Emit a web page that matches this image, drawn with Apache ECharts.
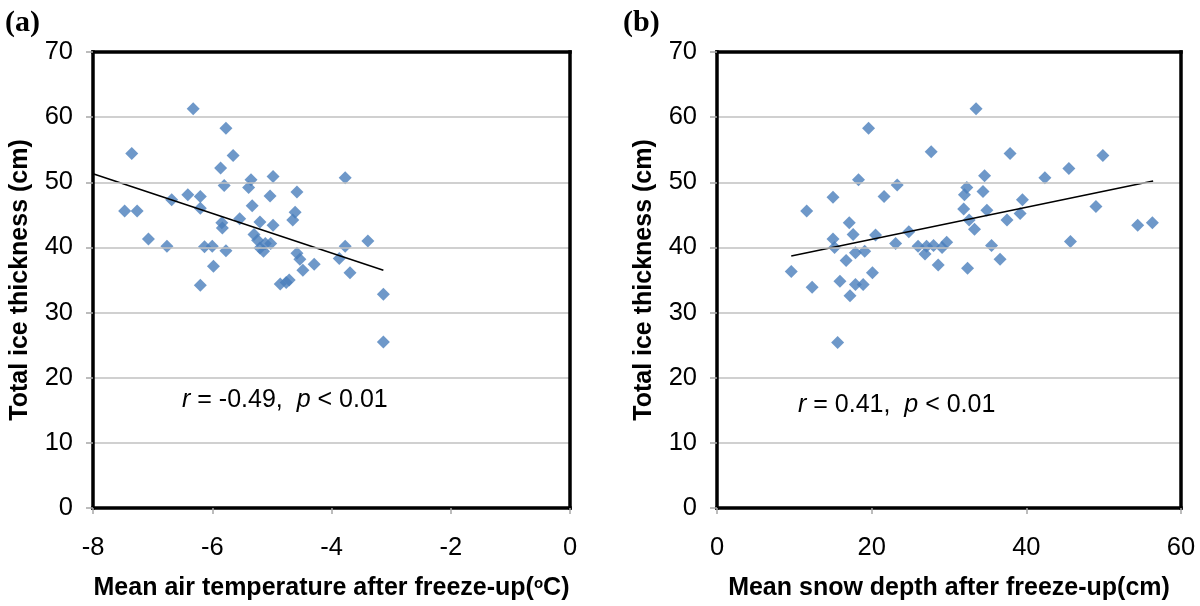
<!DOCTYPE html>
<html>
<head>
<meta charset="utf-8">
<script src="https://cdn.jsdelivr.net/npm/echarts@6/dist/echarts.min.js"></script>
<style>
html,body{margin:0;padding:0;background:#fff;}
#c{width:1200px;height:606px;}
</style>
</head>
<body>
<div id="c"></div>
<script>
// Panel (a): mean air temperature (°C) vs total ice thickness (cm)
var tempA = [-6.32,-5.77,-7.35,-5.65,-5.86,-4.98,-3.77,-5.35,-5.80,-5.39,-6.41,-6.20,-4.58,-5.03,-6.68,-5.33,-6.20,-7.47,-7.26,-4.61,-4.65,-5.54,-5.20,-5.84,-4.98,-5.83,-5.30,-7.07,-3.39,-5.24,-6.76,-6.13,-6.00,-3.77,-5.02,-5.11,-5.77,-5.14,-5.20,-6.20,-5.98,-4.58,-4.53,-4.48,-4.29,-3.87,-3.69,-4.86,-4.76,-4.71,-3.13,-3.13];
var iceA  = [61.3,58.3,54.4,54.1,52.2,50.9,50.7,50.4,49.5,49.2,48.1,47.8,48.5,47.9,47.3,46.4,46.0,45.6,45.6,45.4,44.2,44.4,43.9,43.8,43.4,43.0,42.0,41.3,41.0,41.1,40.2,40.1,40.2,40.2,40.6,40.6,39.5,39.4,39.9,34.2,37.1,39.1,38.2,36.5,37.4,38.3,36.1,34.4,34.6,35.0,32.8,25.5];
var trendA = [[-8, 51.3], [-3.13, 36.5]];

// Panel (b): mean snow depth (cm) vs total ice thickness (cm)
var snowB = [33.5,19.6,27.7,37.9,49.9,45.5,34.6,42.4,18.3,23.3,32.3,15.0,21.6,32.0,34.4,39.5,49.0,11.6,31.9,34.9,39.2,37.5,54.4,56.3,32.6,33.3,17.1,17.6,20.5,24.8,15.0,15.2,23.1,26.0,27.1,28.0,29.1,29.7,26.9,17.9,19.1,35.5,45.7,16.7,36.6,9.6,28.6,32.4,20.1,12.3,15.9,17.9,18.9,17.2,15.6];
var iceB  = [61.3,58.3,54.7,54.4,54.1,52.1,51.0,50.7,50.4,49.6,49.2,47.7,47.8,48.1,48.6,47.3,46.3,45.6,45.9,45.7,45.2,44.2,43.4,43.8,44.2,42.8,43.8,42.0,41.9,42.4,41.3,40.0,40.6,40.2,40.2,40.3,40.0,40.8,39.0,39.2,39.4,40.3,40.9,38.0,38.2,36.3,37.3,36.8,36.1,33.9,34.8,34.3,34.3,32.6,25.4];
var trendB = [[9.6, 38.7], [56.4, 50.2]];

var yTicks = {min: 0, max: 70, interval: 10};
var xTicksA = {min: -8, max: 0, interval: 2};
var xTicksB = {min: 0, max: 60, interval: 20};

var yTitle = 'Total ice thickness (cm)';
var xTitleA = 'Mean air temperature after freeze-up({sup|o}C)';
var xTitleB = 'Mean snow depth after freeze-up(cm)';
var statA = '{i|r} = -0.49,  {i|p} < 0.01';
var statB = '{i|r} = 0.41,  {i|p} < 0.01';

function zip(xs, ys){ var o=[]; for (var i=0;i<xs.length;i++) o.push([xs[i], ys[i]]); return o; }

var FONT = "'Liberation Sans', Arial, sans-serif";
var labelStyle = {color:'#000', fontSize:25.5, fontFamily:FONT};
var nameStyle = {color:'#000', fontSize:25, fontWeight:'bold', fontFamily:FONT,
  rich:{sup:{fontSize:15, fontWeight:'bold', fontFamily:FONT, color:'#000', padding:[0,0,10,0]}}};
var frameLine = {show:true, onZero:false, lineStyle:{color:'#000', width:3.5, cap:'square'}};

function xAxis(idx, t, name){
  return {type:'value', gridIndex:idx, position:'bottom', min:t.min, max:t.max, interval:t.interval,
    name:name, nameLocation:'middle', nameGap:68, nameTextStyle:nameStyle,
    axisLine:frameLine, axisTick:{show:true, length:6, lineStyle:{color:'#a6a6a6', width:1.5}},
    axisLabel:Object.assign({margin:27}, labelStyle), splitLine:{show:false}, z:5};
}
function xFrame(idx, t){
  return {type:'value', gridIndex:idx, position:'top', min:t.min, max:t.max, interval:t.interval,
    axisLine:frameLine, axisTick:{show:false}, axisLabel:{show:false}, splitLine:{show:false}, z:5};
}
function yAxis(idx){
  return {type:'value', gridIndex:idx, position:'left', min:yTicks.min, max:yTicks.max, interval:yTicks.interval,
    name:yTitle, nameLocation:'middle', nameGap:60, nameTextStyle:nameStyle,
    axisLine:frameLine, axisTick:{show:true, length:7, lineStyle:{color:'#a6a6a6', width:1.5}},
    axisLabel:Object.assign({margin:20}, labelStyle),
    splitLine:{show:true, lineStyle:{color:'#c0c0c0', width:1.5}}, z:5};
}
function yFrame(idx){
  return {type:'value', gridIndex:idx, position:'right', min:yTicks.min, max:yTicks.max, interval:yTicks.interval,
    axisLine:frameLine, axisTick:{show:false}, axisLabel:{show:false}, splitLine:{show:false}, z:5};
}
function scatter(idx, data){
  return {type:'scatter', xAxisIndex:idx, yAxisIndex:idx, data:data, symbol:'diamond',
    symbolSize:13, itemStyle:{color:'#4A7EBB'}, z:3, silent:true};
}
function trend(idx, data){
  return {type:'line', xAxisIndex:idx, yAxisIndex:idx, data:data, showSymbol:false, symbol:'none',
    lineStyle:{color:'#000', width:1.5}, z:4, silent:true};
}

var chart = echarts.init(document.getElementById('c'), null, {renderer:'canvas'});
chart.setOption({
  animation:false,
  backgroundColor:'#fff',
  grid:[
    {left:93, top:52, width:477, height:464},
    {left:717, top:52, width:464, height:464}
  ],
  xAxis:[xAxis(0, xTicksA, xTitleA), xAxis(1, xTicksB, xTitleB), xFrame(0, xTicksA), xFrame(1, xTicksB)],
  yAxis:[yAxis(0), yAxis(1), yFrame(0), yFrame(1)],
  series:[scatter(0, zip(tempA, iceA)), trend(0, trendA), scatter(1, zip(snowB, iceB)), trend(1, trendB)],
  graphic:[
    {type:'text', left:5, top:8, style:{text:'(a)', font:"bold 30px 'Liberation Serif', 'Times New Roman', serif", fill:'#000'}},
    {type:'text', left:623, top:8, style:{text:'(b)', font:"bold 30px 'Liberation Serif', 'Times New Roman', serif", fill:'#000'}},
    {type:'text', x:182, y:400, style:{text:statA, fill:'#000', fontSize:25, fontFamily:FONT, textVerticalAlign:'middle',
      rich:{i:{fontStyle:'italic', fontSize:25, fontFamily:FONT, fill:'#000'}}}},
    {type:'text', x:798, y:405, style:{text:statB, fill:'#000', fontSize:25, fontFamily:FONT, textVerticalAlign:'middle',
      rich:{i:{fontStyle:'italic', fontSize:25, fontFamily:FONT, fill:'#000'}}}}
  ]
});
</script>
</body>
</html>
